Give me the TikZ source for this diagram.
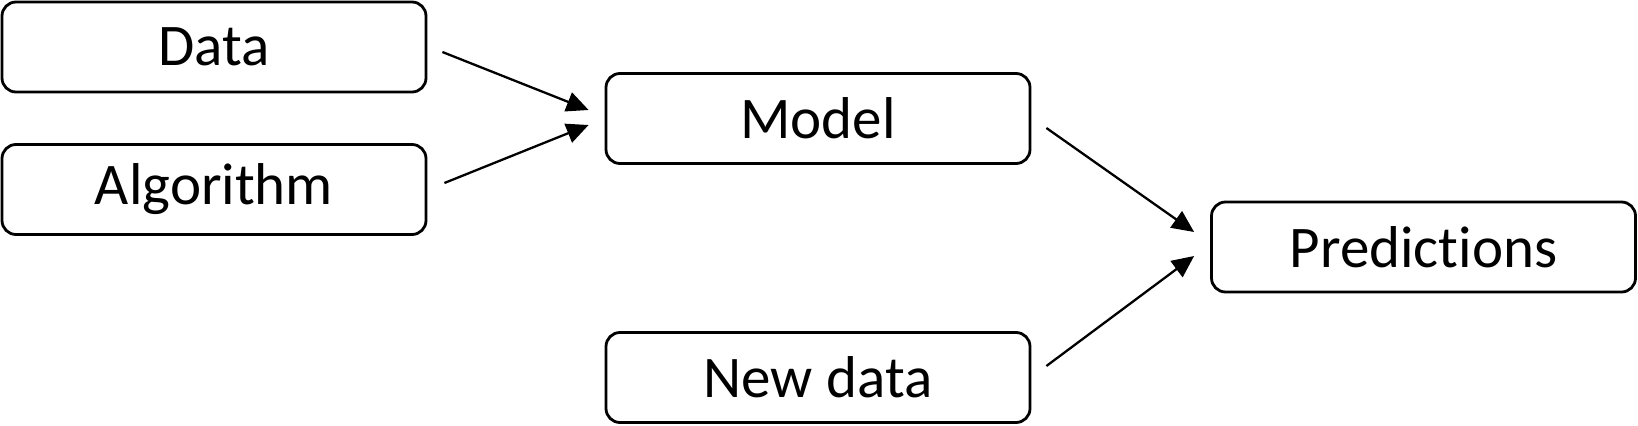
\documentclass[tikz,border=0pt]{standalone}
\usepackage{fontspec}
\setmainfont[Ligatures={NoCommon},RawFeature={-calt}]{Carlito}
\usetikzlibrary{arrows.meta}
\begin{document}
\begin{tikzpicture}[x=0.5pt,y=0.5pt,
  box/.style={draw, line width=1.4pt, rounded corners=7pt, minimum width=212pt, minimum height=45pt, inner sep=0pt, font=\fontsize{29.5}{35}\selectfont},
  arr/.style={line width=1.15pt, -{Triangle[length=11pt,width=10pt]}}]
\useasboundingbox (0,0) rectangle (1638,425);
\node[box] (data) at (214,378) {Data};
\node[box] (algo) at (214,235.5) {Algorithm};
\node[box] (model) at (818,306.5) {Model};
\node[box] (new) at (818,47.5) {New data};
\node[box] (pred) at (1423.5,178) {Predict\kern0pt ions};
\draw[arr] ([shift={(15,-5)}]data.east) -- ([shift={(-16,8.5)}]model.west);
\draw[arr] ([shift={(17,6.5)}]algo.east) -- ([shift={(-16,-6.5)}]model.west);
\draw[arr] ([shift={(15,-9.5)}]model.east) -- ([shift={(-16,15)}]pred.west);
\draw[arr] ([shift={(15,11.5)}]new.east) -- ([shift={(-16,-9)}]pred.west);
\end{tikzpicture}
\end{document}
